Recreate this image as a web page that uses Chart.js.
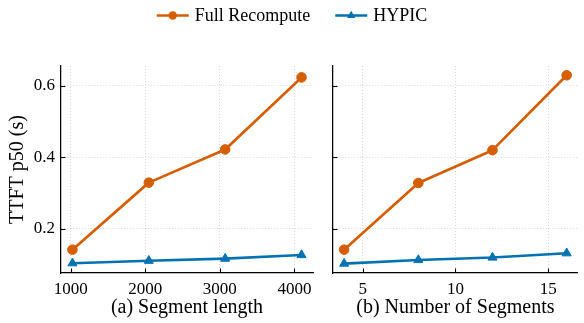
<!DOCTYPE html>
<html>
<head>
<meta charset="utf-8">
<script src="https://cdn.jsdelivr.net/npm/chart.js@4.4.1/dist/chart.umd.min.js"></script>
<style>
  html, body { margin: 0; padding: 0; background: #fff; }
  #wrap { position: relative; width: 584px; height: 323px; }
  #ca { position: absolute; left: 0; top: 0; }
  #cb { position: absolute; left: 320px; top: 0; }
</style>
</head>
<body>
<div id="wrap">
  <canvas id="ca" width="584" height="323"></canvas>
  <canvas id="cb" width="264" height="323"></canvas>
</div>
<script>
// ---- data ----
const segLength = [1024, 2048, 3072, 4096];
const numSegments = [4, 8, 12, 16];
const fullRecomputeA = [0.141, 0.329, 0.422, 0.624];
const hypicA = [0.103, 0.110, 0.116, 0.126];
const fullRecomputeB = [0.141, 0.328, 0.420, 0.630];
const hypicB = [0.102, 0.112, 0.119, 0.131];
const yTicks = [0.2, 0.4, 0.6];
const xTicksA = [1000, 2000, 3000, 4000];
const xTicksB = [5, 10, 15];
const seriesNames = ['Full Recompute', 'HYPIC'];

const ORANGE = '#D55E00';
const BLUE = '#0072B2';
const TEXT = '#000';
const FONT = '"Liberation Serif", "Times New Roman", Times, serif';
const Y_MIN = 0.0756, Y_MAX = 0.656;

function pts(xs, ys) { return xs.map((x, i) => ({ x: x, y: ys[i] })); }

function mkDatasets(xs, f, h) {
  return [
    { label: seriesNames[0], data: pts(xs, f), borderColor: ORANGE, backgroundColor: ORANGE,
      borderWidth: 2.7, pointStyle: 'circle', pointRadius: 4.8, pointBorderWidth: 1,
      pointBorderColor: ORANGE, pointBackgroundColor: ORANGE, tension: 0 },
    { label: seriesNames[1], data: pts(xs, h), borderColor: BLUE, backgroundColor: BLUE,
      borderWidth: 2.7, pointStyle: 'triangle', pointRadius: 5.2, pointBorderWidth: 1,
      pointBorderColor: BLUE, pointBackgroundColor: BLUE, tension: 0 }
  ];
}

const grid = { color: 'rgba(0,0,0,0.2)', lineWidth: 0.8, drawTicks: false };
const border = { display: true, color: '#000', width: 1.25, dash: [1, 2] };

const inwardTicks = {
  id: 'inwardTicks',
  afterDraw(chart) {
    const ctx = chart.ctx; const ca = chart.chartArea;
    ctx.save();
    ctx.strokeStyle = '#000'; ctx.lineWidth = 1.1;
    const xs = chart.scales.x, ys = chart.scales.y;
    xs.ticks.forEach(t => {
      const p = Math.round(xs.getPixelForValue(t.value)) + 0.5;
      ctx.beginPath(); ctx.moveTo(p, ca.bottom); ctx.lineTo(p, ca.bottom - 4.5); ctx.stroke();
    });
    ys.ticks.forEach(t => {
      const p = Math.round(ys.getPixelForValue(t.value)) + 0.5;
      ctx.beginPath(); ctx.moveTo(ca.left, p); ctx.lineTo(ca.left + 4.5, p); ctx.stroke();
    });
    ctx.restore();
  }
};

const legendPlugin = {
  id: 'topLegend',
  afterDraw(chart) {
    const ctx = chart.ctx;
    ctx.save();
    ctx.font = '18px ' + FONT;
    const lineLen = 32, textGap = 6, itemGap = 25;
    const w = seriesNames.map(s => ctx.measureText(s).width);
    const total = (lineLen + textGap + w[0]) + itemGap + (lineLen + textGap + w[1]);
    let x = (chart.width - total) / 2;
    const y = 15.5;
    const cols = [ORANGE, BLUE];
    for (let i = 0; i < 2; i++) {
      ctx.strokeStyle = cols[i]; ctx.fillStyle = cols[i]; ctx.lineWidth = 2.7;
      ctx.beginPath(); ctx.moveTo(x, y); ctx.lineTo(x + lineLen, y); ctx.stroke();
      const cx = x + lineLen / 2;
      ctx.beginPath();
      if (i === 0) { ctx.arc(cx, y, 4.2, 0, Math.PI * 2); }
      else { const r = 4.8; ctx.moveTo(cx, y - r); ctx.lineTo(cx + r * 0.866, y + r / 2); ctx.lineTo(cx - r * 0.866, y + r / 2); ctx.closePath(); }
      ctx.fill();
      ctx.fillStyle = TEXT; ctx.textBaseline = 'middle'; ctx.textAlign = 'left';
      ctx.fillText(seriesNames[i], x + lineLen + textGap, y + 1);
      x += lineLen + textGap + w[i] + itemGap;
    }
    ctx.restore();
  }
};

function yScale(showLabels, width) {
  return {
    type: 'linear', min: Y_MIN, max: Y_MAX,
    afterBuildTicks: s => { s.ticks = yTicks.map(v => ({ value: v })); },
    afterFit: s => { s.width = width; },
    grid: grid, border: border,
    ticks: { display: showLabels, padding: 6, color: TEXT, font: { family: FONT, size: 17 },
             callback: v => v.toFixed(1) },
    title: { display: showLabels, text: 'TTFT p50 (s)', color: TEXT,
             font: { family: FONT, size: 20 }, padding: { top: 6, bottom: 0 } }
  };
}

function xScale(min, max, ticks, title) {
  return {
    type: 'linear', min: min, max: max,
    afterBuildTicks: s => { s.ticks = ticks.map(v => ({ value: v })); },
    afterFit: s => { s.height = 50; },
    grid: grid, border: border,
    ticks: { padding: 6, color: TEXT, font: { family: FONT, size: 17 }, maxRotation: 0,
             callback: v => String(v) },
    title: { display: true, text: title, color: TEXT,
             font: { family: FONT, size: 20 }, padding: { top: 0, bottom: 3 } }
  };
}

const common = {
  responsive: false, animation: false,
  plugins: { legend: { display: false }, tooltip: { enabled: false } },
  elements: { line: { borderCapStyle: 'round', borderJoinStyle: 'round' } }
};

new Chart(document.getElementById('ca'), {
  type: 'line',
  data: { datasets: mkDatasets(segLength, fullRecomputeA, hypicA) },
  options: Object.assign({}, common, {
    layout: { padding: { left: 0, right: 271, top: 66, bottom: 0 } },
    scales: { x: xScale(870.4, 4249.6, xTicksA, '(a) Segment length'), y: yScale(true, 61) }
  }),
  plugins: [inwardTicks, legendPlugin]
});

new Chart(document.getElementById('cb'), {
  type: 'line',
  data: { datasets: mkDatasets(numSegments, fullRecomputeB, hypicB) },
  options: Object.assign({}, common, {
    layout: { padding: { left: 0, right: 1, top: 66, bottom: 0 } },
    scales: { x: xScale(3.4, 16.6, xTicksB, '(b) Number of Segments'), y: yScale(false, 13) }
  }),
  plugins: [inwardTicks]
});
</script>
</body>
</html>
